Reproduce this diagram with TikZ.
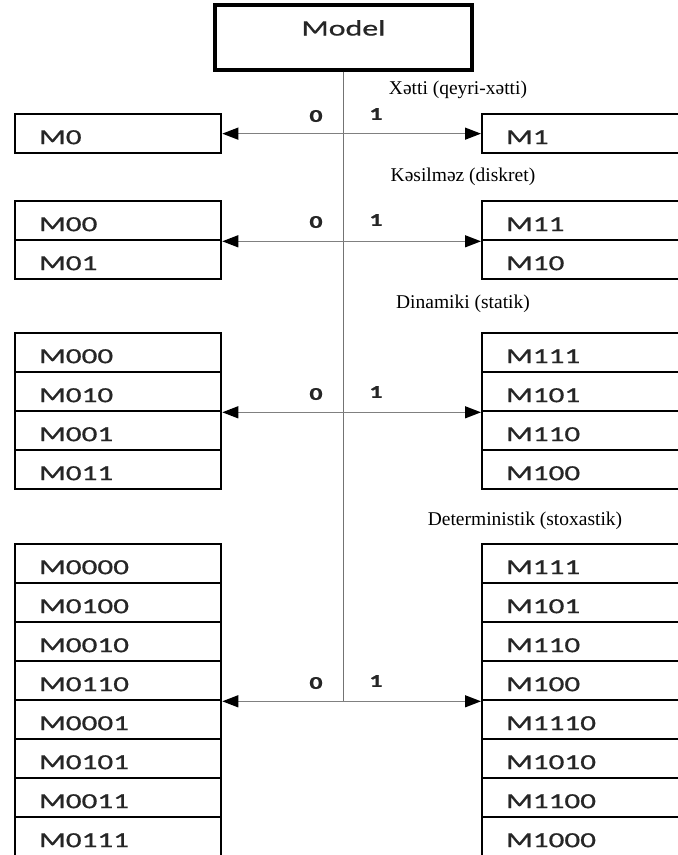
\documentclass[tikz,border=0pt]{standalone}
\usepackage{fontspec}
\setmainfont{Liberation Serif}
\newfontfamily\cellfont[FakeStretch=1.45,FakeBold=0.8]{Carlito}
\usetikzlibrary{arrows.meta}

\tikzset{
  cell/.style={draw, line width=2.3pt, anchor=north west, minimum height=39pt,
    inner xsep=24pt, inner ysep=0pt, text width=158pt, align=left,
    text height=21pt, text depth=0pt, text=black!85,
    font=\cellfont\fontsize{21.5}{21.5}\selectfont},
  rcell/.style={cell, text width=192pt},
  modelbox/.style={draw, line width=3.2pt, minimum width=257pt, minimum height=65pt,
    text height=14pt, text depth=18pt, text=black!85,
    font=\cellfont\fontsize{22}{22}\selectfont},
  heading/.style={font=\fontsize{19.5}{19.5}\selectfont},
  bit/.style={text=black!85, font=\cellfont\bfseries\fontsize{18}{18}\selectfont},
  stem/.style={draw=black!55, line width=1.1pt},
  link/.style={draw=black!50, line width=1.3pt,
    {Triangle[length=16pt,width=12pt,color=black]}-{Triangle[length=16pt,width=12pt,color=black]}}
}

\begin{document}
\begin{tikzpicture}[x=1pt,y=-1pt]
\clip (0,0) rectangle (678,855);
\node[modelbox] (model) at (343.5,37.5) {Model};

% row 1
\node[heading] (h1) at (458,90) {Xətti (qeyri-xətti)};
\node[cell] (l1) at (14,113) {M0};
\node[rcell] (r1) at (481,113) {M1};

% row 2
\node[heading] (h2) at (463,177) {Kəsilməz (diskret)};
\node[cell] (l2a) at (14,200) {M00};
\node[cell] (l2b) at (14,239) {M01};
\node[rcell] (r2a) at (481,200) {M11};
\node[rcell] (r2b) at (481,239) {M10};

% row 3
\node[heading] (h3) at (463,304) {Dinamiki (statik)};
\node[cell] (l3a) at (14,332) {M000};
\node[cell] (l3b) at (14,371) {M010};
\node[cell] (l3c) at (14,410) {M001};
\node[cell] (l3d) at (14,449) {M011};
\node[rcell] (r3a) at (481,332) {M111};
\node[rcell] (r3b) at (481,371) {M101};
\node[rcell] (r3c) at (481,410) {M110};
\node[rcell] (r3d) at (481,449) {M100};

% row 4
\node[heading] (h4) at (525,521) {Deterministik (stoxastik)};
\node[cell] (l4a) at (14,543) {M0000};
\node[cell] (l4b) at (14,582) {M0100};
\node[cell] (l4c) at (14,621) {M0010};
\node[cell] (l4d) at (14,660) {M0110};
\node[cell] (l4e) at (14,699) {M0001};
\node[cell] (l4f) at (14,738) {M0101};
\node[cell] (l4g) at (14,777) {M0011};
\node[cell] (l4h) at (14,816) {M0111};
\node[rcell] (r4a) at (481,543) {M111};
\node[rcell] (r4b) at (481,582) {M101};
\node[rcell] (r4c) at (481,621) {M110};
\node[rcell] (r4d) at (481,660) {M100};
\node[rcell] (r4e) at (481,699) {M1110};
\node[rcell] (r4f) at (481,738) {M1010};
\node[rcell] (r4g) at (481,777) {M1100};
\node[rcell] (r4h) at (481,816) {M1000};

% stem and branches
\coordinate (c4) at (model.south |- l4d.south east);
\draw[stem] (model.south) -- (c4);
\draw[link] (l1.east) -- (r1.west);
\draw[link] (l2a.south east) -- (r2a.south west);
\draw[link] (l3b.south east) -- (r3b.south west);
\draw[link] (l4d.south east) -- (r4d.south west);

\node[bit] (z1) at (316,116) {0};
\node[bit] (o1) at (376,114) {1};
\node[bit] (z2) at (316,222) {0};
\node[bit] (o2) at (376,220) {1};
\node[bit] (z3) at (316,394) {0};
\node[bit] (o3) at (376,392) {1};
\node[bit] (z4) at (316,683) {0};
\node[bit] (o4) at (376,681) {1};
\end{tikzpicture}
\end{document}
